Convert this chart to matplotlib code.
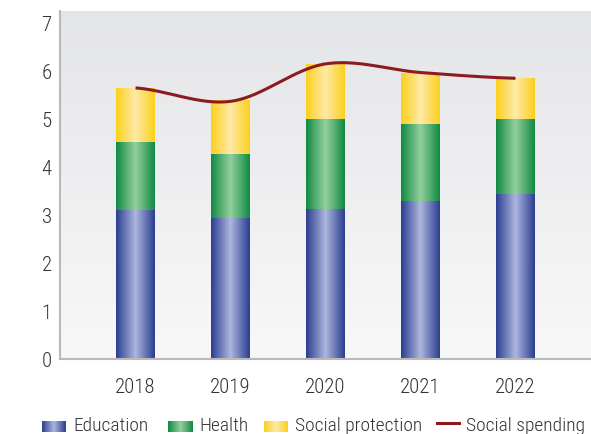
import numpy as np
import matplotlib
matplotlib.use("Agg")
import matplotlib.pyplot as plt
from matplotlib.colors import LinearSegmentedColormap

plt.rcParams['font.family'] = ['Roboto Condensed', 'DejaVu Sans']
plt.rcParams['font.weight'] = 'light'

years = ["2018", "2019", "2020", "2021", "2022"]
education = [3.08, 2.92, 3.12, 3.28, 3.42]
health = [1.42, 1.33, 1.86, 1.60, 1.56]
social_protection = [1.12, 1.12, 1.14, 1.06, 0.85]
social_spending = [5.63, 5.35, 6.13, 5.95, 5.83]
y_ticks = [0, 1, 2, 3, 4, 5, 6, 7]

palette = {
    "Education": ("#2a3e90", "#adb6de"),
    "Health": ("#118a43", "#93d09d"),
    "Social protection": ("#fcd01c", "#feeaa8"),
}
line_color = "#8c1b1f"
text_color = "#333333"
font_size = 14


def edge_cmap(edge, center):
    return LinearSegmentedColormap.from_list("g", [edge, center, edge])


grad = np.linspace(0, 1, 256).reshape(1, -1)

fig = plt.figure(figsize=(5.91, 4.35), dpi=100)
ax = fig.add_axes([60 / 591, 1 - 359.5 / 435, 1 - 60 / 591, (359.5 - 12) / 435])

# plot-area background: soft vertical gray gradient
bg = LinearSegmentedColormap.from_list("bg", ["#f8f8f8", "#e4e5e8"])
ax.imshow(np.linspace(0, 1, 256).reshape(-1, 1)[::-1], cmap=bg, aspect="auto",
          extent=[0, 1, 0, 1], transform=ax.transAxes, zorder=0)

x = np.arange(len(years))
width = 0.41
bottom = np.zeros(len(years))
for name, vals in [("Education", education), ("Health", health),
                   ("Social protection", social_protection)]:
    bars = ax.bar(x, vals, width, bottom=bottom, color="none", zorder=2)
    cmap = edge_cmap(*palette[name])
    for r in bars:
        x0, y0 = r.get_x(), r.get_y()
        ax.imshow(grad, cmap=cmap, aspect="auto", zorder=2,
                  extent=[x0, x0 + r.get_width(), y0, y0 + r.get_height()])
    bottom += np.array(vals)

# smoothed total line (Catmull-Rom through the yearly values)
pts = np.array(social_spending)
ext = np.concatenate([[2 * pts[0] - pts[1]], pts, [2 * pts[-1] - pts[-2]]])
xs, ys = [], []
for i in range(len(pts) - 1):
    p0, p1 = ext[i + 1], ext[i + 2]
    m0 = (ext[i + 2] - ext[i]) / 2
    m1 = (ext[i + 3] - ext[i + 1]) / 2
    if i == 0:
        m0 = (pts[1] - pts[0]) * 0.5
    if i == len(pts) - 2:
        m1 = (pts[-1] - pts[-2]) * 0.5
    t = np.linspace(0, 1, 40)
    h00 = 2 * t**3 - 3 * t**2 + 1
    h10 = t**3 - 2 * t**2 + t
    h01 = -2 * t**3 + 3 * t**2
    h11 = t**3 - t**2
    xs.append(i + t)
    ys.append(h00 * p0 + h10 * m0 + h01 * p1 + h11 * m1)
ax.plot(np.concatenate(xs), np.concatenate(ys), color=line_color, lw=2.2,
        solid_capstyle="butt", zorder=3)

ax.set_xlim(-0.795, 4.795)
ax.set_ylim(0, 7.23)
ax.set_xticks(x)
ax.set_xticklabels(years)
ax.set_yticks(y_ticks)
ax.tick_params(length=0, labelsize=font_size + 1, colors=text_color)
ax.tick_params(axis="x", pad=13)
ax.tick_params(axis="y", pad=6)
for s in ["top", "right"]:
    ax.spines[s].set_visible(False)
for s in ["left", "bottom"]:
    ax.spines[s].set_color("#b8b9bb")
    ax.spines[s].set_linewidth(1.5)
ax.set_zorder(1)

# legend row along the bottom edge
legend_y = 426
items = [("Education", 42), ("Health", 168), ("Social protection", 264)]
for name, px in items:
    lax = fig.add_axes([px / 591, 1 - (legend_y + 7) / 435, 24 / 591, 11 / 435])
    lax.imshow(grad, cmap=edge_cmap(*palette[name]), aspect="auto")
    lax.axis("off")
    fig.text((px + 31) / 591, 1 - legend_y / 435, name, fontsize=font_size,
             color=text_color, va="center", ha="left")
fig.add_artist(plt.Line2D([437 / 591, 459 / 591],
                          [1 - (legend_y - 2) / 435, 1 - (legend_y - 2) / 435],
                          color=line_color, lw=2.2, transform=fig.transFigure))
fig.text(466 / 591, 1 - legend_y / 435, "Social spending", fontsize=font_size,
         color=text_color, va="center", ha="left")

fig.savefig("out.png", dpi=100)
